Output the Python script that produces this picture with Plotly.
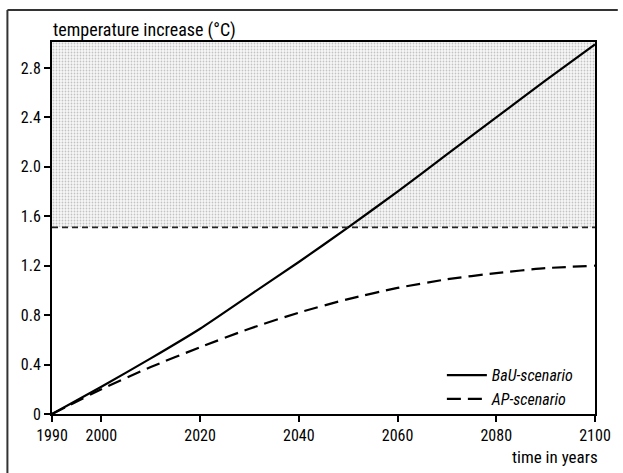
import plotly.graph_objects as go

years = [1990, 2000, 2010, 2020, 2030, 2040, 2050, 2060, 2070, 2080, 2090, 2100]
bau = [0.0, 0.22, 0.45, 0.69, 0.96, 1.23, 1.51, 1.80, 2.10, 2.40, 2.70, 2.99]
ap = [0.0, 0.20, 0.38, 0.54, 0.69, 0.82, 0.93, 1.02, 1.09, 1.14, 1.18, 1.20]
threshold = 1.51
y_max = 3.01
x_ticks = [1990, 2000, 2020, 2040, 2060, 2080, 2100]
y_ticks = [0, 0.4, 0.8, 1.2, 1.6, 2.0, 2.4, 2.8]
y_ticktext = ["0", "0.4", "0.8", "1.2", "1.6", "2.0", "2.4", "2.8"]
series_names = ["BaU-scenario", "AP-scenario"]

FONT = "Roboto Condensed, Liberation Sans Narrow, Liberation Sans, Arial, sans-serif"

fig = go.Figure()

# shaded zone above threshold
fig.add_trace(go.Scatter(
    x=[years[0], years[-1], years[-1], years[0], years[0]],
    y=[threshold, threshold, y_max, y_max, threshold],
    mode="lines", line=dict(width=0), fill="toself",
    fillcolor="rgba(0,0,0,0)",
    fillpattern=dict(shape=".", fgcolor="#909090", bgcolor="#f7f7f7", size=3, solidity=0.28),
    showlegend=False, hoverinfo="skip"))

fig.add_shape(type="line", xref="x", yref="y", x0=years[0], x1=years[-1],
              y0=threshold, y1=threshold, line=dict(color="#222", width=1.6, dash="6px,4px"))

fig.add_trace(go.Scatter(x=years, y=bau, mode="lines", name=series_names[0],
                         line=dict(color="black", width=2.2, shape="spline", smoothing=0.6)))
fig.add_trace(go.Scatter(x=years, y=ap, mode="lines", name=series_names[1],
                         line=dict(color="black", width=2.2, dash="14px,7px", shape="spline", smoothing=0.6)))

fig.update_layout(
    width=623, height=473,
    margin=dict(l=52, r=23, t=42, b=59),
    paper_bgcolor="white", plot_bgcolor="white",
    font=dict(family=FONT, size=16, color="black"),
    showlegend=True,
    legend=dict(x=0.718, y=0.15, xanchor="left", yanchor="top",
                bgcolor="rgba(0,0,0,0)", font=dict(size=16, style="italic"),
                tracegroupgap=0, itemwidth=40),
    xaxis=dict(range=[years[0], years[-1]], tickvals=x_ticks, ticks="outside", ticklen=6,
               tickwidth=1.5, tickcolor="black", showline=True, linecolor="black", linewidth=2,
               mirror=True, showgrid=False, zeroline=False, fixedrange=True),
    yaxis=dict(range=[0, y_max], tickvals=y_ticks, ticktext=y_ticktext, ticks="outside", ticklen=6,
               tickwidth=1.5, tickcolor="black", showline=True, linecolor="black", linewidth=2,
               mirror=True, showgrid=False, zeroline=False, fixedrange=True),
)

fig.add_annotation(text="temperature increase (°C)", xref="paper", yref="paper",
                   x=0.0, y=1.0, xanchor="left", yanchor="bottom", yshift=-1, xshift=-1,
                   showarrow=False, font=dict(size=18))
fig.add_annotation(text="time in years", xref="paper", yref="paper",
                   x=1.0, y=0.0, xanchor="right", yanchor="top", yshift=-31, xshift=5,
                   showarrow=False, font=dict(size=17))

# scanned frame (top and left edges)
fig.add_shape(type="line", xref="paper", yref="paper",
              x0=-45/548, x1=571/548, y0=(414-10)/372, y1=(414-10)/372,
              line=dict(color="#333", width=2))
fig.add_shape(type="line", xref="paper", yref="paper",
              x0=-45/548, x1=-45/548, y0=(414-10)/372, y1=(414-473)/372,
              line=dict(color="#333", width=2))

fig.write_html("out.html")
